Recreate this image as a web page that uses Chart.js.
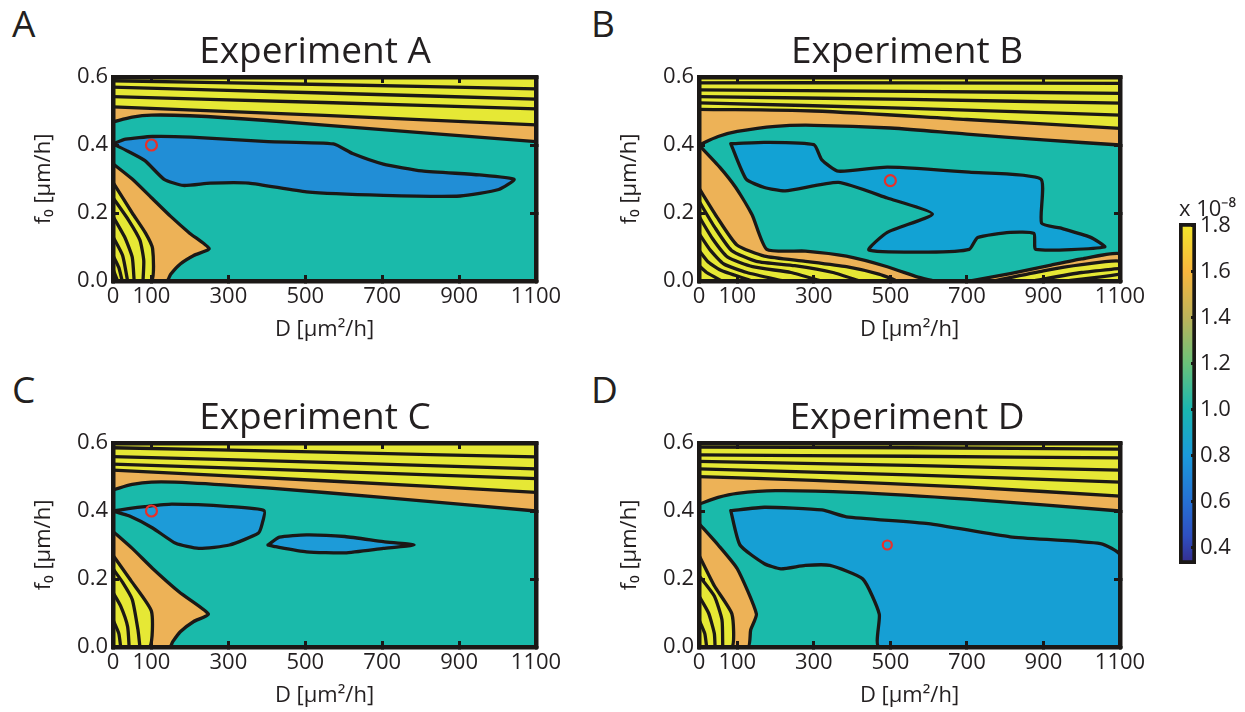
<!DOCTYPE html>
<html><head><meta charset="utf-8">
<script src="https://cdn.jsdelivr.net/npm/chart.js@4.4.1/dist/chart.umd.min.js"></script>
<style>
body{margin:0;background:#fff;}
#wrap{position:relative;width:1245px;height:712px;overflow:hidden;background:#fff;}
canvas{position:absolute;}
.lbl{position:absolute;font-family:'Open Sans';font-size:37px;line-height:37px;color:#231F20;}
</style></head><body>
<div id="wrap">
<div class="lbl" style="left:12px;top:4px">A</div>
<div class="lbl" style="left:591px;top:4px">B</div>
<div class="lbl" style="left:12px;top:370px">C</div>
<div class="lbl" style="left:591px;top:370px">D</div>
<canvas id="cA" width="630" height="343" style="left:0;top:0"></canvas>
<canvas id="cB" width="642" height="343" style="left:586px;top:0"></canvas>
<canvas id="cC" width="630" height="343" style="left:0;top:366px"></canvas>
<canvas id="cD" width="642" height="343" style="left:586px;top:366px"></canvas>
<canvas id="cBar" width="70" height="380" style="left:1175px;top:190px"></canvas>
</div>
<script>
// ---------- axes ----------
const X_MIN = 0, X_MAX = 1100, Y_MIN = 0, Y_MAX = 0.6;
const xTickVals = [0, 100, 300, 500, 700, 900, 1100];
const yTickVals = [0, 0.2, 0.4, 0.6];
const panelTitles = ['Experiment A', 'Experiment B', 'Experiment C', 'Experiment D'];

// ---------- Panel A contours (D, f0) ----------
const A_T1 = [[0,0.589],[550,0.578],[1100,0.565]];
const A_T2 = [[0,0.570],[550,0.553],[1100,0.535]];
const A_T3 = [[0,0.542],[550,0.525],[1100,0.506]];
const A_YO = [[0,0.512],[550,0.487],[1100,0.459]];
const A_OT = [[0,0.468],[50,0.482],[100,0.488],[200,0.486],[400,0.472],[700,0.445],[1100,0.41]];
const A_OT_low = [[0,0.345],[50,0.30],[100,0.245],[150,0.19],[200,0.14],[250,0.095],[210,0.075],[175,0.05],[150,0.02],[140,0]];
const A_YO_low = [[0,0.29],[50,0.2],[85,0.14],[103,0.095],[100,0]];
const A_Y1 = [[0,0.245],[40,0.18],[70,0.12],[80,0.06],[78,0]];
const A_Y2 = [[0,0.19],[30,0.13],[50,0.07],[55,0]];
const A_Y3 = [[0,0.13],[25,0.075],[38,0]];
const A_Y4 = [[0,0.075],[15,0.04],[24,0]];
const A_Y5 = [[0,0.035],[12,0]];
const A_blue = [[0,0.403],[33,0.417],[103,0.425],[203,0.423],[403,0.41],[573,0.403],[623,0.375],[703,0.344],[803,0.324],[953,0.312],[1043,0.299],[1003,0.269],[903,0.25],[703,0.252],[503,0.262],[353,0.288],[253,0.288],[183,0.281],[133,0.299],[83,0.354],[33,0.385],[0,0.403]];
const A_marker = [100, 0.40];

// ---------- Panel B ----------
const B_T1 = [[0,0.583],[550,0.583],[1100,0.581]];
const B_T2 = [[0,0.562],[550,0.558],[1100,0.552]];
const B_T3 = [[0,0.542],[550,0.534],[1100,0.523]];
const B_T4 = [[0,0.524],[550,0.508],[1100,0.488]];
const B_YO = [[0,0.505],[300,0.5],[700,0.475],[1100,0.449]];
const B_OT = [[0,0.40],[50,0.425],[100,0.44],[200,0.455],[300,0.458],[500,0.45],[700,0.432],[900,0.415],[1100,0.40]];
const B_OT_low = [[0,0.40],[54,0.335],[96,0.275],[139,0.194],[177,0.093],[278,0.088],[385,0.073],[492,0.042],[570,0.012],[610,0]];
const B_YO_low = [[0,0.273],[47,0.188],[99,0.106],[171,0.073],[278,0.058],[385,0.042],[470,0.02],[514,0]];
const B_Y1 = [[0,0.235],[40,0.16],[85,0.09],[150,0.058],[250,0.045],[350,0.025],[420,0]];
const B_Y2 = [[0,0.19],[35,0.125],[75,0.07],[140,0.042],[240,0.025],[320,0]];
const B_Y3 = [[0,0.14],[30,0.09],[65,0.05],[125,0.025],[220,0]];
const B_Y4 = [[0,0.09],[25,0.055],[60,0.03],[140,0]];
const B_Y5 = [[0,0.045],[20,0.025],[60,0]];
const B_OT_right = [[706,0],[813,0.022],[920,0.047],[1000,0.065],[1100,0.08]];
const B_YO_right = [[770,0],[900,0.03],[1000,0.048],[1100,0.058]];
const B_YR1 = [[870,0],[1000,0.025],[1100,0.037]];
const B_YR2 = [[960,0],[1050,0.012],[1100,0.02]];
const B_blue = [[83,0.404],[171,0.408],[300,0.401],[321,0.356],[364,0.323],[492,0.335],[706,0.32],[893,0.30],[895,0.17],[943,0.156],[1022,0.129],[1060,0.10],[880,0.093],[875,0.14],[813,0.143],[728,0.128],[706,0.093],[599,0.085],[444,0.091],[492,0.143],[610,0.197],[492,0.244],[364,0.29],[225,0.265],[171,0.275],[123,0.30],[83,0.404]];
const B_marker = [500, 0.295];

// ---------- Panel C ----------
const C_T1 = [[0,0.586],[550,0.573],[1100,0.559]];
const C_T2 = [[0,0.56],[550,0.543],[1100,0.524]];
const C_T3 = [[0,0.538],[550,0.517],[1100,0.495]];
const C_YO = [[0,0.52],[550,0.489],[1100,0.455]];
const C_OT = [[0,0.462],[50,0.478],[100,0.485],[200,0.483],[400,0.468],[700,0.44],[1100,0.40]];
const C_OT_low = [[0,0.34],[50,0.29],[103,0.231],[173,0.161],[248,0.097],[210,0.075],[175,0.045],[155,0.015],[148,0]];
const C_YO_low = [[0,0.27],[50,0.19],[100,0.105],[95,0]];
const C_Y1 = [[0,0.23],[25,0.19],[50,0.14],[65,0.05],[70,0]];
const C_Y2 = [[0,0.16],[20,0.12],[38,0.06],[42,0]];
const C_Y3 = [[0,0.08],[15,0.04],[20,0]];
const C_blue1 = [[0,0.40],[40,0.407],[83,0.413],[153,0.42],[303,0.413],[393,0.401],[388,0.363],[378,0.335],[303,0.3],[223,0.29],[163,0.305],[103,0.35],[43,0.385],[0,0.40]];
const C_blue2 = [[403,0.30],[433,0.323],[503,0.33],[603,0.325],[703,0.31],[783,0.30],[703,0.29],[603,0.277],[503,0.28],[423,0.295],[403,0.30]];
const C_marker = [100, 0.40];

// ---------- Panel D ----------
const D_T1 = [[0,0.588],[550,0.586],[1100,0.582]];
const D_T2 = [[0,0.565],[550,0.561],[1100,0.556]];
const D_T3 = [[0,0.546],[550,0.534],[1100,0.52]];
const D_T4 = [[0,0.524],[550,0.506],[1100,0.485]];
const D_YO = [[0,0.501],[300,0.49],[700,0.47],[1100,0.444]];
const D_OT = [[0,0.42],[50,0.44],[100,0.452],[200,0.46],[400,0.455],[700,0.435],[1100,0.40]];
const D_OT_low = [[0,0.363],[50,0.30],[100,0.23],[150,0.097],[135,0.05],[128,0]];
const D_YO_low = [[0,0.27],[40,0.18],[86,0.097],[86,0]];
const D_Y1 = [[0,0.21],[40,0.15],[60,0.08],[62,0]];
const D_Y2 = [[0,0.15],[25,0.1],[40,0.04],[42,0]];
const D_Y3 = [[0,0.08],[15,0.04],[20,0]];
const D_blue = [[83,0.401],[171,0.411],[321,0.403],[385,0.383],[599,0.363],[813,0.324],[1049,0.304],[1100,0.27],[1100,0],[471,0],[471,0.097],[428,0.2],[342,0.24],[278,0.24],[214,0.23],[171,0.245],[107,0.30],[83,0.401]];
const D_marker = [492, 0.30];

// ---------- colour bar ----------
const cbMin = 0.33, cbMax = 1.81;
const cbTickVals = [0.4, 0.6, 0.8, 1.0, 1.2, 1.4, 1.6, 1.8];
const cbStopVals = [0.33, 0.45, 0.6, 0.8, 1.0, 1.2, 1.4, 1.6, 1.8];
const cbStopCols = ['#352C8C','#2F4FC0','#2670D4','#1B9ADB','#1AB6B0','#6AC27A','#BDB35A','#F9B63E','#F2E52B'];
const cbExponent = 'x 10\u207B\u2078';

// ---------- styles ----------
const INK = '#231F20';
const LINE = '#1B1816';
const TEAL = '#1ABAAA';
const ORANGE = '#EDB257';
const YELLOW = '#E6E835';
const RED = '#E8302A';
const LW = 3.3;
const FONT = 'Open Sans';
Chart.defaults.font.family = FONT;
Chart.defaults.color = INK;

const areaBg = {
  id: 'areaBg',
  beforeDatasetsDraw(chart, args, opts) {
    if (!opts || !opts.color) return;
    const {ctx, chartArea: a} = chart;
    ctx.save(); ctx.fillStyle = opts.color;
    ctx.fillRect(a.left, a.top, a.right - a.left, a.bottom - a.top);
    ctx.restore();
  }
};

function pts(arr) { return arr.map(p => ({x: p[0], y: p[1]})); }
function lineDs(arr, extra) {
  return Object.assign({
    data: pts(arr), showLine: true, pointRadius: 0, pointHoverRadius: 0,
    borderColor: LINE, borderWidth: LW, tension: 0.18, fill: false,
    borderJoinStyle: 'round', borderCapStyle: 'round'
  }, extra || {});
}
function markerDs(m, r) {
  return {data: pts([m]), showLine: false, pointRadius: r, pointHoverRadius: r,
    pointBorderWidth: 2.2, pointBorderColor: RED, pointBackgroundColor: 'rgba(0,0,0,0)'};
}

const gridOpts = {display: true, drawOnChartArea: false, drawTicks: true, tickLength: -6, tickWidth: 3, color: LINE, z: 1};
const borderOpts = {display: true, color: LINE, width: 4.5, z: 2};
const tickFont = {family: FONT, size: 22};

function makePanel(id, title, rightWidth, spec) {
  const ds = [];
  spec.topFills.forEach(([a, c]) => ds.push(lineDs(a, {fill: 'end', backgroundColor: c, tension: 0.3})));
  spec.topLines.forEach(a => ds.push(lineDs(a, {tension: 0.3})));
  spec.shapes.forEach(([a, corner, c]) => ds.push(lineDs(a.concat([corner]), {fill: 'shape', backgroundColor: c})));
  spec.lines.forEach(a => ds.push(lineDs(a)));
  spec.blues.forEach(a => ds.push(lineDs(a, {fill: 'shape', backgroundColor: spec.blue})));
  ds.push(markerDs(spec.marker, spec.markerR || 5.5));
  ds.forEach((d, i) => { d.order = -i; });
  const xT = s => { s.ticks = xTickVals.map(v => ({value: v})); };
  const yT = s => { s.ticks = yTickVals.map(v => ({value: v})); };
  new Chart(document.getElementById(id), {
    type: 'scatter',
    data: {datasets: ds},
    plugins: [areaBg],
    options: {
      responsive: false, animation: false, events: [],
      layout: {padding: 0},
      plugins: {
        legend: {display: false}, tooltip: {enabled: false},
        areaBg: {color: TEAL},
        title: {display: true, text: title, color: INK, font: {family: FONT, size: 37, weight: 'normal'}, padding: {top: 29.8, bottom: 2.8}}
      },
      scales: {
        x: {type: 'linear', position: 'bottom', min: X_MIN, max: X_MAX,
          afterBuildTicks: xT, afterFit: s => { s.height = 62; },
          ticks: {font: tickFont, color: INK, padding: 9, maxRotation: 0, autoSkip: false, callback: v => String(v)},
          grid: gridOpts, border: borderOpts,
          title: {display: true, text: 'D [\u00B5m\u00B2/h]', font: tickFont, color: INK, padding: {top: 0, bottom: 0}}},
        x2: {type: 'linear', position: 'top', min: X_MIN, max: X_MAX,
          afterBuildTicks: xT, afterFit: s => { s.height = 0; },
          ticks: {display: false}, grid: gridOpts, border: borderOpts},
        y: {type: 'linear', position: 'left', min: Y_MIN, max: Y_MAX,
          afterBuildTicks: yT, afterFit: s => { s.width = 113; },
          ticks: {font: tickFont, color: INK, padding: 11, callback: v => Number(v).toFixed(1)},
          grid: gridOpts, border: borderOpts,
          title: {display: true, text: 'f\u2080 [\u00B5m/h]', font: tickFont, color: INK, padding: {top: 31, bottom: 0}}},
        y2: {type: 'linear', position: 'right', min: Y_MIN, max: Y_MAX,
          afterBuildTicks: yT, afterFit: s => { s.width = rightWidth; },
          ticks: {display: false}, grid: gridOpts, border: borderOpts}
      }
    }
  });
}

const CORNER_BL = [X_MIN, Y_MIN], CORNER_BR = [X_MAX, Y_MIN];

makePanel('cA', panelTitles[0], 94, {
  topFills: [[A_OT, ORANGE], [A_YO, YELLOW]], topLines: [A_T3, A_T2, A_T1],
  shapes: [[A_OT_low, CORNER_BL, ORANGE], [A_YO_low, CORNER_BL, YELLOW]],
  lines: [A_Y1, A_Y2, A_Y3, A_Y4, A_Y5],
  blues: [A_blue], blue: '#218ED6', marker: A_marker
});
makePanel('cB', panelTitles[1], 108, {
  topFills: [[B_OT, ORANGE], [B_YO, YELLOW]], topLines: [B_T4, B_T3, B_T2, B_T1],
  shapes: [[B_OT_low, CORNER_BL, ORANGE], [B_YO_low, CORNER_BL, YELLOW], [B_OT_right, CORNER_BR, ORANGE], [B_YO_right, CORNER_BR, YELLOW]],
  lines: [B_Y1, B_Y2, B_Y3, B_Y4, B_Y5, B_YR1, B_YR2],
  blues: [B_blue], blue: '#12A2D4', marker: B_marker
});
makePanel('cC', panelTitles[2], 94, {
  topFills: [[C_OT, ORANGE], [C_YO, YELLOW]], topLines: [C_T3, C_T2, C_T1],
  shapes: [[C_OT_low, CORNER_BL, ORANGE], [C_YO_low, CORNER_BL, YELLOW]],
  lines: [C_Y1, C_Y2, C_Y3],
  blues: [C_blue1, C_blue2], blue: '#1D9BD8', marker: C_marker
});
makePanel('cD', panelTitles[3], 108, {
  topFills: [[D_OT, ORANGE], [D_YO, YELLOW]], topLines: [D_T4, D_T3, D_T2, D_T1],
  shapes: [[D_OT_low, CORNER_BL, ORANGE], [D_YO_low, CORNER_BL, YELLOW]],
  lines: [D_Y1, D_Y2, D_Y3],
  blues: [D_blue], blue: '#169FD4', marker: D_marker, markerR: 4.5
});

// colour bar
new Chart(document.getElementById('cBar'), {
  type: 'bar',
  data: {labels: [''], datasets: [{
    data: [[cbMin, cbMax]],
    backgroundColor: (ctx) => {
      const ch = ctx.chart, a = ch.chartArea;
      if (!a) return cbStopCols[0];
      const g = ch.ctx.createLinearGradient(0, a.bottom, 0, a.top);
      cbStopVals.forEach((v, i) => g.addColorStop(Math.min(1, Math.max(0, (v - cbMin) / (cbMax - cbMin))), cbStopCols[i]));
      return g;
    },
    borderColor: LINE, borderWidth: 4, borderSkipped: false,
    barPercentage: 1, categoryPercentage: 1
  }]},
  options: {
    responsive: false, animation: false, events: [],
    layout: {padding: {left: 4, right: 0, top: 0, bottom: 6}},
    plugins: {
      legend: {display: false}, tooltip: {enabled: false},
      title: {display: true, text: cbExponent, align: 'start', color: INK, font: {family: FONT, size: 22, weight: 'normal'}, padding: {top: 6.6, bottom: 0}}
    },
    scales: {
      x: {display: false},
      y: {position: 'right', min: cbMin, max: cbMax,
        afterBuildTicks: s => { s.ticks = cbTickVals.map(v => ({value: v})); },
        afterFit: s => { s.width = 49; s.paddingTop = 0; s.paddingBottom = 0; },
        ticks: {font: tickFont, color: INK, padding: 9, callback: v => Number(v).toFixed(1)},
        grid: {display: true, drawOnChartArea: false, drawTicks: true, tickLength: -5, tickWidth: 3, color: LINE, z: 1},
        border: {display: false}}
    }
  }
});
</script>
</body></html>
